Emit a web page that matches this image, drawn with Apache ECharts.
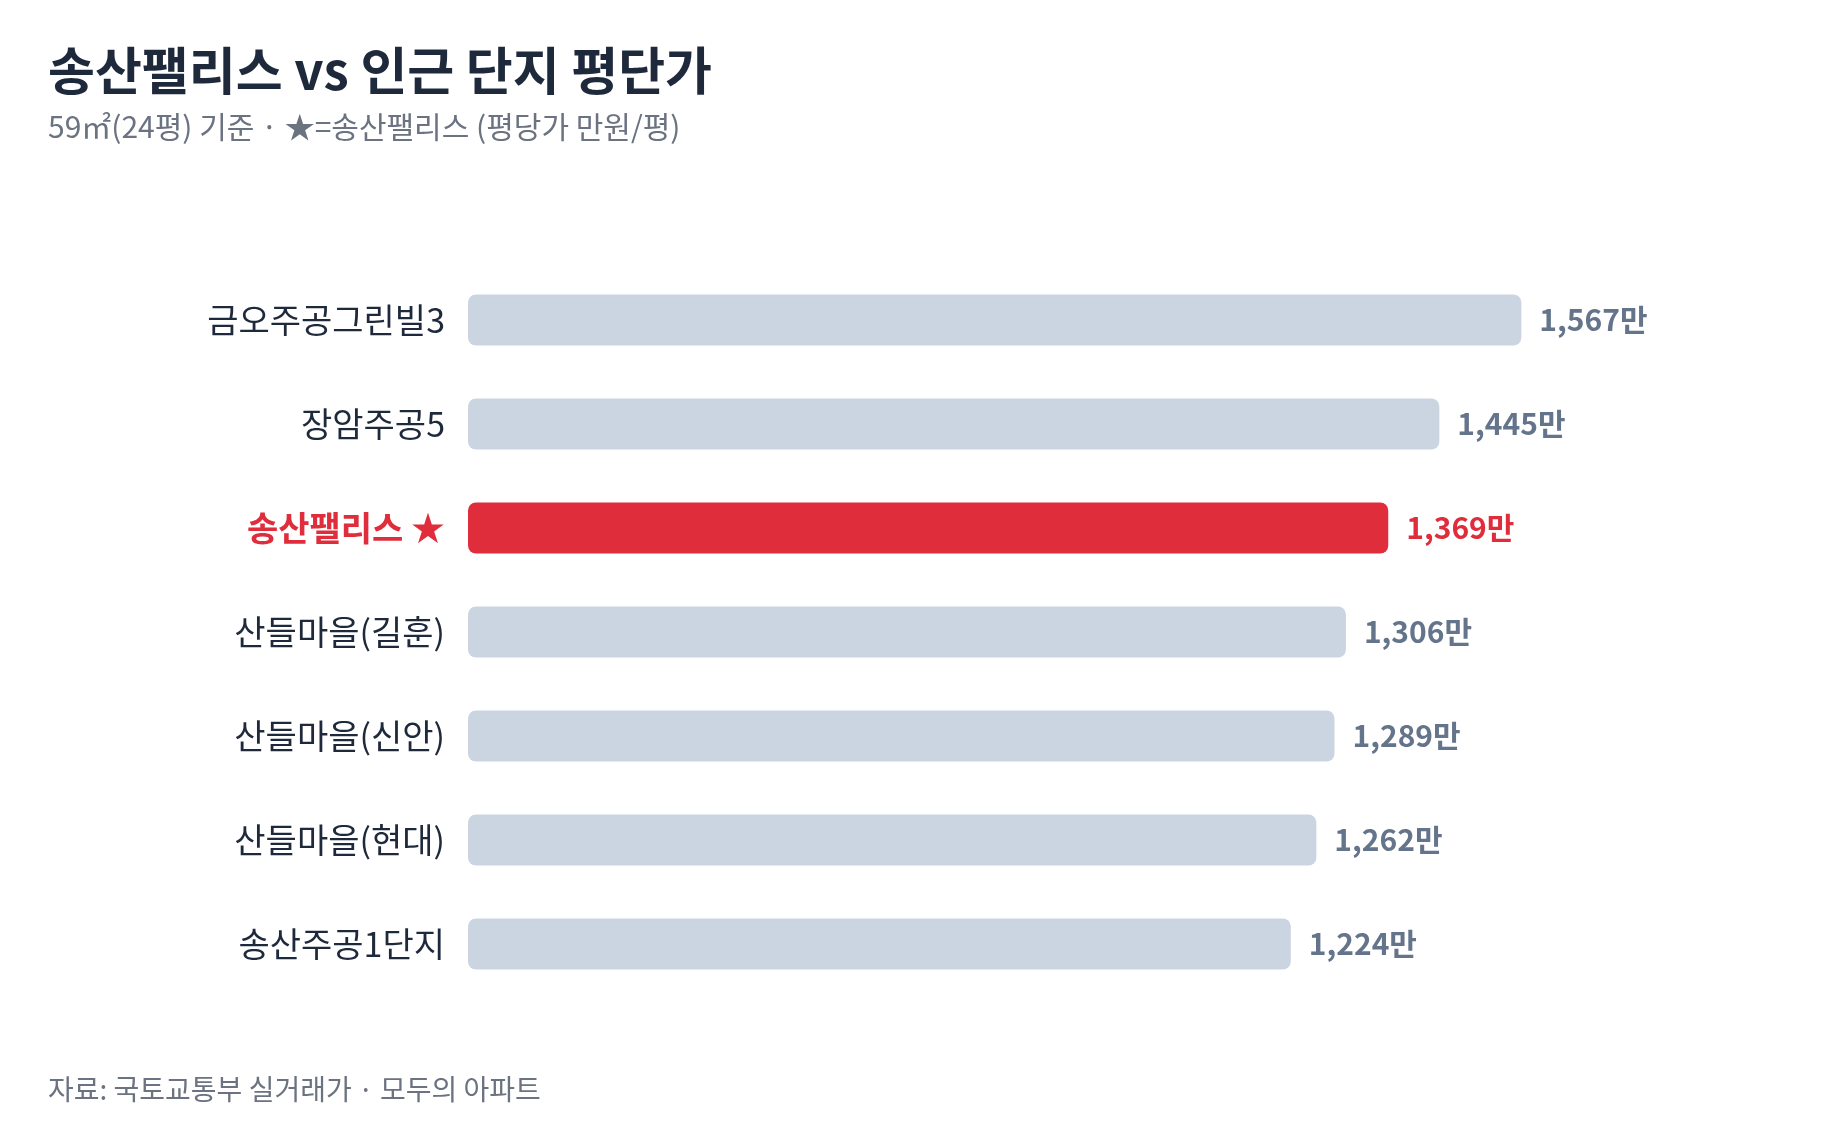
<!DOCTYPE html>
<html>
<head>
<meta charset="utf-8">
<script src="https://cdn.jsdelivr.net/npm/echarts@6/dist/echarts.min.js"></script>
<style>
html,body{margin:0;padding:0;background:#fff;}
#chart{width:1840px;height:1126px;}
</style>
</head>
<body>
<div id="chart"></div>
<script>
const categories = ['금오주공그린빌3', '장암주공5', '송산팰리스', '산들마을(길훈)', '산들마을(신안)', '산들마을(현대)', '송산주공1단지'];
const values = [1567, 1445, 1369, 1306, 1289, 1262, 1224];
const highlight = '송산팰리스';

const FONT = '"Noto Sans CJK KR", "Noto Sans", sans-serif';
const RED = '#e02d3c';
const GRAY = '#cbd5e1';

const chart = echarts.init(document.getElementById('chart'), null, {renderer: 'canvas'});

const seriesData = values.map((v, i) => ({
  value: v,
  itemStyle: {color: categories[i] === highlight ? RED : GRAY},
  label: {color: categories[i] === highlight ? RED : '#64748b'}
}));

chart.setOption({
  backgroundColor: '#ffffff',
  textStyle: {fontFamily: FONT},
  title: [
    {
      text: '송산팰리스 vs 인근 단지 평단가',
      left: 43, top: 40,
      textStyle: {fontFamily: FONT, fontSize: 51, fontWeight: 'bold', color: '#1e293b'}
    },
    {
      text: '59㎡(24평) 기준 · ★=송산팰리스 (평당가 만원/평)',
      left: 43, top: 107,
      textStyle: {fontFamily: FONT, fontSize: 30, fontWeight: 'normal', color: '#6b7280'}
    },
    {
      text: '자료: 국토교통부 실거래가 · 모두의 아파트',
      left: 43, top: 1070,
      textStyle: {fontFamily: FONT, fontSize: 28, fontWeight: 'normal', color: '#6b7280'}
    }
  ],
  grid: {left: 468, top: 268, width: 1210, height: 728, containLabel: false},
  xAxis: {
    type: 'value', min: 0, max: 1800, show: false
  },
  yAxis: {
    type: 'category',
    data: categories,
    inverse: true,
    axisLine: {show: false},
    axisTick: {show: false},
    splitLine: {show: false},
    axisLabel: {
      margin: 23,
      fontFamily: FONT,
      fontSize: 34,
      color: '#1e293b',
      formatter: function (v) {
        return v === highlight ? '{hl|' + v + ' ★}' : v;
      },
      rich: {
        hl: {fontFamily: FONT, fontSize: 34, fontWeight: 'bold', color: RED}
      }
    }
  },
  series: [{
    type: 'bar',
    data: seriesData,
    barWidth: 51,
    itemStyle: {borderRadius: 8},
    label: {
      show: true,
      position: 'right',
      distance: 18,
      fontFamily: FONT,
      fontSize: 30,
      fontWeight: 'bold',
      formatter: function (p) { return p.value.toLocaleString('en-US') + '만'; }
    },
    silent: true,
    animation: false
  }],
  animation: false
});
</script>
</body>
</html>
